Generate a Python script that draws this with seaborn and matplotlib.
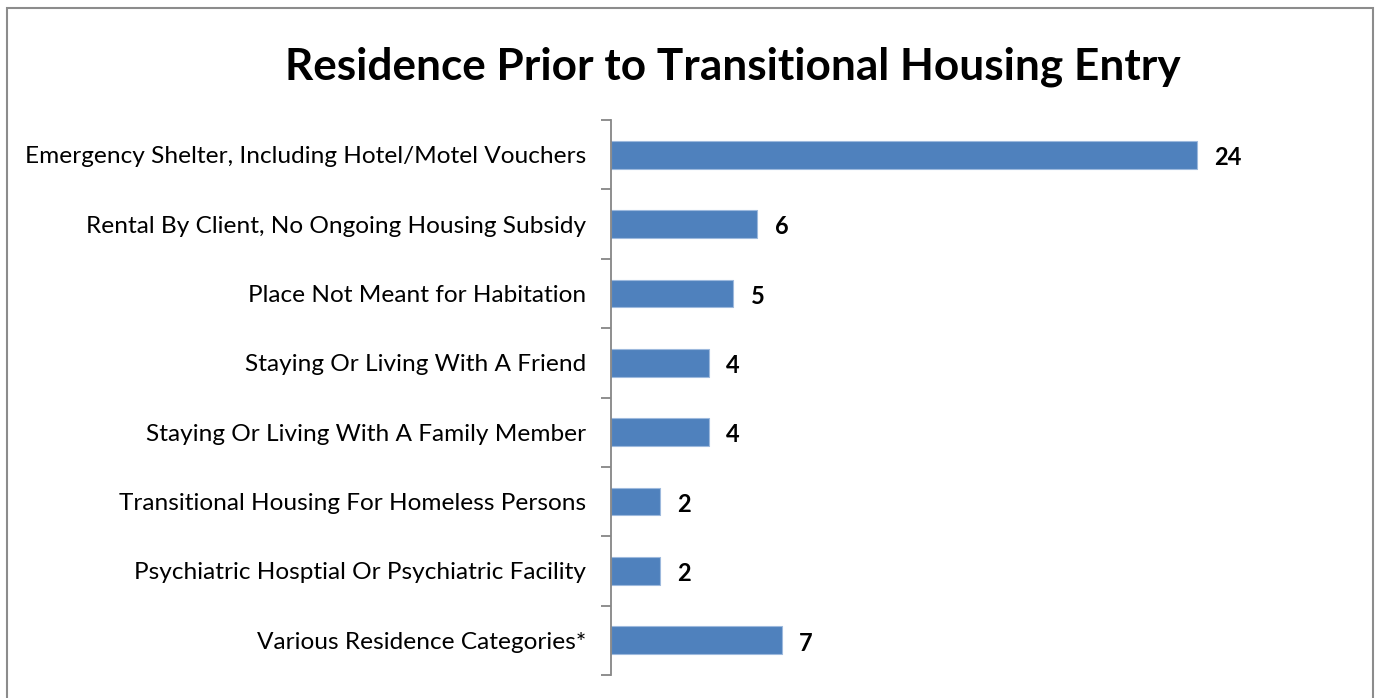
import numpy as np
import pandas as pd
import seaborn as sns
import matplotlib.pyplot as plt
from matplotlib.patches import Rectangle

categories = [
    "Emergency Shelter, Including Hotel/Motel Vouchers",
    "Rental By Client, No Ongoing Housing Subsidy",
    "Place Not Meant for Habitation",
    "Staying Or Living With A Friend",
    "Staying Or Living With A Family Member",
    "Transitional Housing For Homeless Persons",
    "Psychiatric Hosptial Or Psychiatric Facility",
    "Various Residence Categories*",
]
counts = [24, 6, 5, 4, 4, 2, 2, 7]

df = pd.DataFrame({"Residence": categories, "Count": counts})

sns.set_style("white")
plt.rcParams["font.family"] = ["Lato", "DejaVu Sans"]
plt.rcParams["text.color"] = "black"
plt.rcParams["ytick.labelcolor"] = "black"

fig = plt.figure(figsize=(13.78, 6.98), dpi=100)
ax = fig.add_axes([611 / 1378, 1 - 675 / 698, (1343 - 611) / 1378, (675 - 120) / 698])

sns.barplot(data=df, x="Count", y="Residence", color="#4F81BD", saturation=1,
            width=0.4, edgecolor="#9DB9DD", linewidth=0.8, ax=ax)

ax.set_xlim(0, 30)
ax.set_ylim(len(categories) - 0.5, -0.5)
ax.set_xlabel("")
ax.set_ylabel("")
ax.set_xticks([])

for spine in ["top", "right", "bottom"]:
    ax.spines[spine].set_visible(False)
ax.spines["left"].set_color("#868686")
ax.spines["left"].set_linewidth(1.3)

ax.set_yticks(np.arange(-0.5, len(categories), 1), minor=True)
ax.tick_params(axis="y", which="major", length=0, pad=18, labelsize=17.6,
               labelcolor="black")
ax.tick_params(axis="y", which="minor", length=7, width=1.3, color="#868686", left=True)

for i, v in enumerate(counts):
    ax.text(v + 0.72, i + 0.04, str(v), va="center", ha="left", fontsize=17,
            fontweight="bold", color="black")

fig.text(733 / 1378, 1 - 67 / 698, "Residence Prior to Transitional Housing Entry",
         ha="center", va="center", fontsize=31.8, fontweight="bold", color="black")

fig.patches.append(Rectangle((7 / 1378, -0.05), (1373 - 7) / 1378, 1.05 - 8 / 698,
                             transform=fig.transFigure, fill=False,
                             edgecolor="#8C8C8C", linewidth=1.5))

fig.savefig("out.png", dpi=100)
